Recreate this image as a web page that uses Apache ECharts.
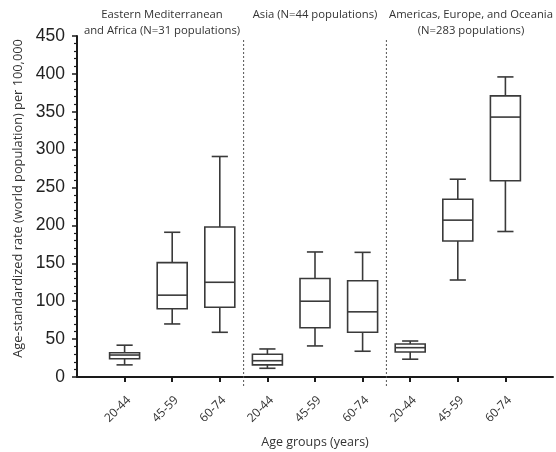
<!DOCTYPE html>
<html>
<head>
<meta charset="utf-8">
<script src="https://cdn.jsdelivr.net/npm/echarts@6/dist/echarts.min.js"></script>
<style>
html,body{margin:0;padding:0;background:#fff;}
#chart{width:556px;height:452px;}
</style>
</head>
<body>
<div id="chart"></div>
<script>
// ---- data ----
var regions = ['EMA', 'Asia', 'AEO'];
var ageGroups = ['20-44', '45-59', '60-74'];
// [min, Q1, median, Q3, max] per region, per age group
var emaBoxes = [
  [16, 24, 29, 32, 42],
  [70, 90, 108, 151, 191],
  [59, 92, 125, 198, 291]
];
var asiaBoxes = [
  [11.5, 16, 21.5, 30, 37],
  [41, 65, 100, 130, 165],
  [34, 59, 86, 127, 164.5]
];
var aeoBoxes = [
  [23.5, 33, 38.7, 43.5, 47.5],
  [128, 179.5, 207, 234.5, 261],
  [192, 259, 343, 371, 396]
];
var regionTitles = [
  ['Eastern Mediterranean', 'and Africa (N=31 populations)'],
  ['Asia (N=44 populations)'],
  ['Americas, Europe, and Oceania', '(N=283 populations)']
];
var yTicks = [0, 50, 100, 150, 200, 250, 300, 350, 400, 450];
var yName = 'Age-standardized rate (world population) per 100,000';
var xName = 'Age groups (years)';

// ---- build ----
var allBoxes = [emaBoxes, asiaBoxes, aeoBoxes];
var categories = [''];
var boxData = [];
var sepData = [];
regions.forEach(function (r, ri) {
  ageGroups.forEach(function (a, ai) {
    categories.push(r + '|' + a);
    var b = allBoxes[ri][ai];
    boxData.push([categories.length - 1].concat(b));
  });
  if (ri < regions.length - 1) {
    sepData.push([categories.length - 1, categories.length, 0]);
  }
});
categories.push(' ');

var lineColor = '#3a3a3a';

function renderBox(params, api) {
  var x = api.value(0);
  var cx = api.coord([x, api.value(1)])[0];
  var yMin = api.coord([x, api.value(1)])[1];
  var yQ1 = api.coord([x, api.value(2)])[1];
  var yMed = api.coord([x, api.value(3)])[1];
  var yQ3 = api.coord([x, api.value(4)])[1];
  var yMax = api.coord([x, api.value(5)])[1];
  var band = api.size([1, 0])[0];
  var bw = band * 0.63;
  var cw = band * 0.34;
  var st = {stroke: lineColor, lineWidth: 1.6, fill: null};
  return {
    type: 'group',
    children: [
      {type: 'line', shape: {x1: cx, y1: yMax, x2: cx, y2: yQ3}, style: st},
      {type: 'line', shape: {x1: cx, y1: yQ1, x2: cx, y2: yMin}, style: st},
      {type: 'line', shape: {x1: cx - cw / 2, y1: yMax, x2: cx + cw / 2, y2: yMax}, style: st},
      {type: 'line', shape: {x1: cx - cw / 2, y1: yMin, x2: cx + cw / 2, y2: yMin}, style: st},
      {type: 'rect', shape: {x: cx - bw / 2, y: yQ3, width: bw, height: yQ1 - yQ3},
        style: {stroke: lineColor, lineWidth: 1.6, fill: '#fff'}},
      {type: 'line', shape: {x1: cx - bw / 2, y1: yMed, x2: cx + bw / 2, y2: yMed}, style: st}
    ]
  };
}

function renderSep(params, api) {
  var xa = api.coord([api.value(0), 0])[0];
  var xb = api.coord([api.value(1), 0])[0];
  var xm = (xa + xb) / 2;
  var cs = params.coordSys;
  return {
    type: 'line',
    shape: {x1: xm, y1: cs.y + 4, x2: xm, y2: cs.y + cs.height + 11},
    style: {stroke: '#555', lineWidth: 1, lineDash: [2, 2]}
  };
}

var titleFont = '"Open Sans", sans-serif';
var titleCenters = [162, 315, 471];
var graphics = [];
regionTitles.forEach(function (lines, i) {
  lines.forEach(function (t, li) {
    graphics.push({
      type: 'text',
      x: titleCenters[i], y: 15 + li * 16,
      style: {
        text: t, fill: '#333', font: '11.3px ' + titleFont,
        textAlign: 'center', textVerticalAlign: 'middle'
      }
    });
  });
});

var chart = echarts.init(document.getElementById('chart'), null, {renderer: 'canvas'});
chart.setOption({
  animation: false,
  backgroundColor: '#fff',
  grid: {left: 77, right: 3, top: 36, bottom: 75, containLabel: false, outerBoundsMode: 'none'},
  xAxis: {
    type: 'category',
    data: categories,
    boundaryGap: false,
    name: xName,
    nameLocation: 'middle',
    nameGap: 59,
    nameTextStyle: {fontFamily: titleFont, fontSize: 12.5, color: '#333'},
    axisLine: {lineStyle: {color: '#1a1a1a', width: 2}},
    axisTick: {
      length: 5, lineStyle: {color: '#1a1a1a', width: 2},
      interval: function (idx, val) { return val.indexOf('|') >= 0; }
    },
    axisLabel: {
      rotate: 45, margin: 17, interval: 0, verticalAlign: 'top',
      fontFamily: titleFont, fontSize: 12, color: '#333',
      formatter: function (v) { return v.indexOf('|') >= 0 ? v.split('|')[1] : ''; }
    },
    splitLine: {show: false}
  },
  yAxis: {
    type: 'value',
    min: yTicks[0], max: yTicks[yTicks.length - 1], interval: yTicks[1] - yTicks[0],
    name: yName,
    nameLocation: 'middle',
    nameGap: 44,
    nameTextStyle: {fontFamily: titleFont, fontSize: 12.8, color: '#333', padding: [0, 0, 0, 16]},
    axisLine: {show: true, lineStyle: {color: '#1a1a1a', width: 2}},
    axisTick: {show: true, length: 5, lineStyle: {color: '#1a1a1a', width: 1.5}},
    minorTick: {show: true, splitNumber: 5, length: 3, lineStyle: {color: '#1a1a1a', width: 1.2}},
    axisLabel: {fontFamily: '"Liberation Sans", Arial, sans-serif', fontSize: 17.5, color: '#222', margin: 12},
    splitLine: {show: false}
  },
  graphic: graphics,
  series: [
    {
      type: 'custom',
      renderItem: renderSep,
      data: sepData,
      encode: {x: [0, 1], y: 2},
      silent: true
    },
    {
      type: 'custom',
      renderItem: renderBox,
      data: boxData,
      encode: {x: 0, y: [1, 2, 3, 4, 5]},
      silent: true
    }
  ]
});
</script>
</body>
</html>
